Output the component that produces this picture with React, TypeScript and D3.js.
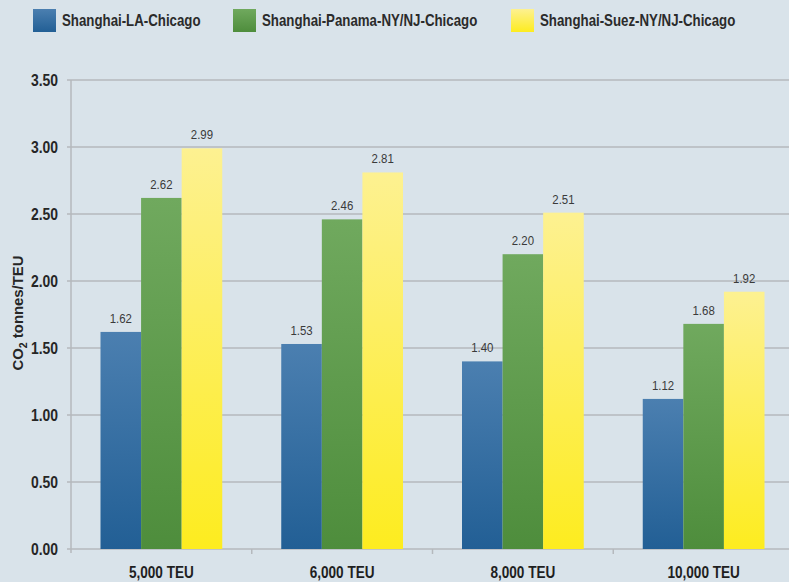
import * as d3 from 'd3';

const categories = ['5,000 TEU', '6,000 TEU', '8,000 TEU', '10,000 TEU'];
const seriesNames = ['Shanghai-LA-Chicago', 'Shanghai-Panama-NY/NJ-Chicago', 'Shanghai-Suez-NY/NJ-Chicago'];
const laChicago = [1.62, 1.53, 1.4, 1.12];
const panama = [2.62, 2.46, 2.2, 1.68];
const suez = [2.99, 2.81, 2.51, 1.92];
const yTicks = [0, 0.5, 1, 1.5, 2, 2.5, 3, 3.5];

const series = [laChicago, panama, suez];
const gradients = [
  { id: 'gBlue', top: '#4b7fb0', bottom: '#225f95' },
  { id: 'gGreen', top: '#70a95e', bottom: '#4e8d3c' },
  { id: 'gYellow', top: '#fdf191', bottom: '#fdec1f' },
];

const W = 789;
const H = 582;
const margin = { top: 80, right: -5, bottom: 33, left: 71 };
const FONT = "'Liberation Sans', Arial, sans-serif";
const SQUEEZE = 0.84;

// condensed text: Liberation Sans squeezed horizontally
function CText({ x, y, anchor = 'start', size, bold = true, fill, sx = SQUEEZE, children }: any) {
  return (
    <text
      transform={`translate(${x},${y}) scale(${sx},1)`}
      textAnchor={anchor}
      fontFamily={FONT}
      fontWeight={bold ? 'bold' : 'normal'}
      fontSize={size}
      fill={fill}
    >
      {children}
    </text>
  );
}

export default function App() {
  const x0 = d3
    .scaleBand()
    .domain(categories)
    .range([margin.left, W - margin.right])
    .paddingInner(0)
    .paddingOuter(0);
  const x1 = d3
    .scaleBand()
    .domain(seriesNames)
    .range([29.5, x0.bandwidth() - 29.5]);
  const y = d3.scaleLinear().domain([0, 3.5]).range([H - margin.bottom, margin.top]);

  const legendPos = [33, 233, 511];

  return (
    <div style={{ position: 'absolute', left: 0, top: 0 }}>
      <svg width={W} height={H} style={{ display: 'block', background: '#d9e3ea' }}>
        <defs>
          {gradients.map((g) => (
            <linearGradient key={g.id} id={g.id} x1="0" y1="0" x2="0" y2="1">
              <stop offset="0%" stopColor={g.top} />
              <stop offset="100%" stopColor={g.bottom} />
            </linearGradient>
          ))}
        </defs>

        {/* legend */}
        {seriesNames.map((name, i) => (
          <g key={name} transform={`translate(${legendPos[i]},9)`}>
            <rect width={23} height={23} fill={`url(#${gradients[i].id})`} />
            <CText x={29} y={17} size={16} fill="#2b2b2b" sx={0.83}>
              {name}
            </CText>
          </g>
        ))}

        {/* grid lines */}
        {yTicks.map((t) => (
          <g key={t}>
            <line x1={67} x2={W} y1={y(t)} y2={y(t)} stroke="#b5b9bd" strokeWidth={1.5} />
            <CText x={58} y={y(t) + 6} anchor="end" size={16} fill="#262626" sx={0.87}>
              {t.toFixed(2)}
            </CText>
          </g>
        ))}

        {/* y axis line */}
        <line x1={margin.left} x2={margin.left} y1={y(3.5)} y2={y(0) + 4} stroke="#b5b9bd" strokeWidth={1.5} />

        {/* x ticks at category boundaries */}
        {categories.slice(1).map((c) => (
          <line
            key={c}
            x1={x0(c)}
            x2={x0(c)}
            y1={y(0)}
            y2={y(0) + 5}
            stroke="#b5b9bd"
            strokeWidth={1.5}
          />
        ))}

        {/* bars */}
        {categories.map((c, ci) => (
          <g key={c} transform={`translate(${x0(c)},0)`}>
            {series.map((vals, si) => {
              const v = vals[ci];
              const bx = x1(seriesNames[si]) || 0;
              return (
                <g key={si}>
                  <rect
                    x={bx}
                    y={y(v)}
                    width={x1.bandwidth()}
                    height={y(0) - y(v)}
                    fill={`url(#${gradients[si].id})`}
                  />
                  <CText
                    x={bx + x1.bandwidth() / 2}
                    y={y(v) - 9}
                    anchor="middle"
                    size={13}
                    bold={false}
                    fill="#3a3a3a"
                    sx={0.88}
                  >
                    {v.toFixed(2)}
                  </CText>
                </g>
              );
            })}
            <CText x={x0.bandwidth() / 2} y={578} anchor="middle" size={16} fill="#1f1f1f" sx={0.85}>
              {c}
            </CText>
          </g>
        ))}

        {/* y axis title */}
        <g transform="translate(23,313) rotate(-90)">
          <CText x={0} y={0} anchor="middle" size={15.5} fill="#262626" sx={0.96}>
            CO
            <tspan fontSize={11} dy={4}>2</tspan>
            <tspan dy={-4}> tonnes/TEU</tspan>
          </CText>
        </g>
      </svg>
    </div>
  );
}
